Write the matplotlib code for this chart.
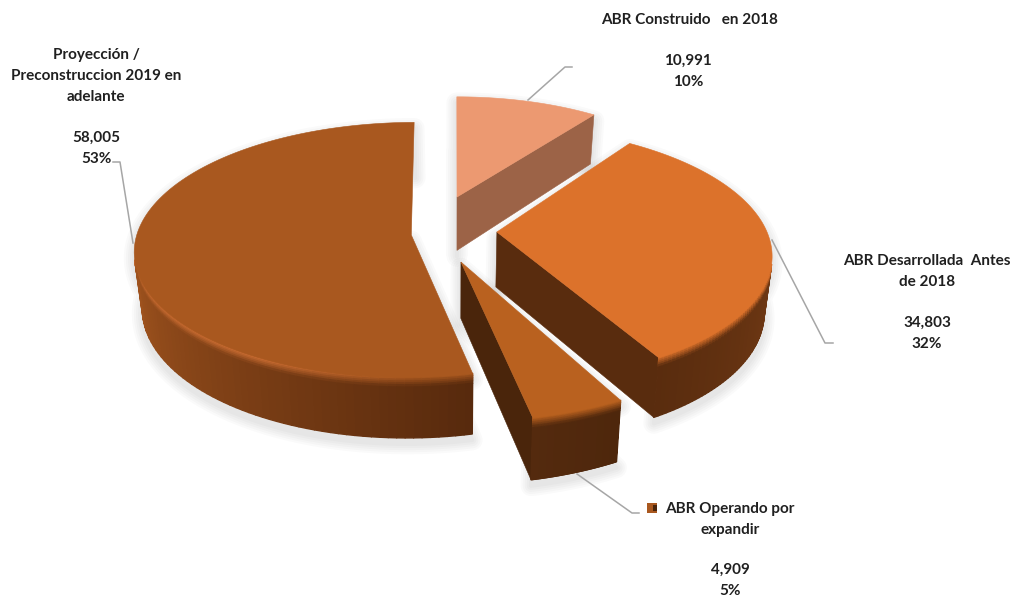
import numpy as np
import matplotlib
matplotlib.use("Agg")
import matplotlib.pyplot as plt
from matplotlib.collections import PolyCollection
from matplotlib.patches import Polygon, Rectangle

plt.rcParams['font.family'] = ['Lato', 'DejaVu Sans']

# data, clockwise from 12 o'clock
names = ["Construido", "Desarrollada", "Operando", "Proyeccion"]
values = [10991, 34803, 4909, 58005]
value_labels = ["10,991", "34,803", "4,909", "58,005"]
pct_labels = ["10%", "32%", "5%", "53%"]

# colours per slice
top_colors = [(236, 153, 113), (220, 114, 43), (185, 97, 31), (169, 88, 31)]
cut_colors = [(156, 99, 71), (89, 44, 14), (74, 37, 11), (89, 42, 14)]
rim_colors = [((156, 99, 71), (156, 99, 71)),
              ((118, 60, 22), (89, 44, 14)),
              ((78, 39, 12), (84, 42, 14)),
              ((88, 42, 13), (168, 88, 32))]
rim_range = [(0, 36), (90, 152), (152, 168), (168, 270)]
edge_glow = [None, None, None, (208, 112, 52)]

# where each exploded slice sits on the disc, and its look
explode_u = [0.0075, 0.152, 0.021, -0.158]
explode_v = [0.295, 0.008, -0.224, -0.016]
slice_scale = [0.94, 0.98, 1.05, 0.993]
slice_turn = [0, -1, 0, -0.4]
slice_k = [0.117, 0.17, 0.117, 0.117]

cx, cy = 455, 233
R, A = 276, 126.2
SHRINK = 0.975


def project(u, v, k, low=False):
    w = 1 + k * v
    x = cx + R * u / w
    y = cy - A * v / w
    if low:
        x = cx + (x - cx) * SHRINK
        y = y + (55 - 5.5 * v)
    return np.column_stack([x, y])


def norm(c):
    return tuple(i / 255 for i in c)


def mix(a, b, t):
    return tuple(a[i] + (b[i] - a[i]) * t for i in range(3))


def area(p):
    x, y = p[:, 0], p[:, 1]
    return np.sum(x * np.roll(y, -1) - np.roll(x, -1) * y)


fig = plt.figure(figsize=(10.11, 5.96), dpi=100)
ax = fig.add_axes([0, 0, 1, 1])
ax.set_xlim(0, 1011)
ax.set_ylim(596, 0)
ax.axis("off")

total = sum(values)
sweeps = np.array(values) / total * 360
starts = np.concatenate([[0], np.cumsum(sweeps)[:-1]])

slices = []
for i in range(len(values)):
    deg = np.linspace(starts[i], starts[i] + sweeps[i], 121)
    a = np.radians(deg + slice_turn[i])
    u = explode_u[i] + slice_scale[i] * np.sin(a)
    v = explode_v[i] + slice_scale[i] * np.cos(a)
    au, av = np.array([explode_u[i]]), np.array([explode_v[i]])
    slices.append(dict(a=deg,
                       top=project(u, v, slice_k[i]),
                       low=project(u, v, slice_k[i], True),
                       atop=project(au, av, slice_k[i]),
                       alow=project(au, av, slice_k[i], True)))

# soft drop shadow under every slice
for s in slices:
    outline = np.vstack([s["atop"], s["top"], s["low"][::-1], s["alow"]])
    outline = outline + np.array([0, 6])
    for lw in [15, 12, 9, 6, 3]:
        ax.add_patch(Polygon(outline, closed=True, facecolor="none",
                             edgecolor=(0, 0, 0, 0.02), lw=lw, joinstyle="round", zorder=1))
    ax.add_patch(Polygon(outline, closed=True, facecolor=(0.9, 0.9, 0.9), edgecolor="none", zorder=1))

# back slice first, front slice last
for z, i in enumerate([0, 1, 3, 2]):
    s = slices[i]
    base = 2 + z * 3
    top_c, cut_c = norm(top_colors[i]), norm(cut_colors[i])

    # flat cut faces, slivers seen edge-on are skipped
    for idx, sign in [(0, -1), (-1, 1)]:
        quad = np.vstack([s["atop"], s["top"][idx], s["low"][idx], s["alow"]])
        if area(quad) * sign > 0 and abs(s["top"][idx][0] - s["atop"][0][0]) > 10:
            ax.add_patch(Polygon(quad, closed=True, facecolor=cut_c, edgecolor=cut_c, lw=0.4, zorder=base))

    # curved outer wall, shaded along the angle with a soft top edge
    levels = [0, 0.03, 0.06, 0.09, 0.12, 0.16, 1]
    polys, cols = [], []
    c0, c1 = rim_colors[i]
    lo, hi = rim_range[i]
    for j in range(len(s["a"]) - 1):
        t_a = np.clip((s["a"][j] - lo) / max(hi - lo, 1), 0, 1)
        wall = mix(norm(c0), norm(c1), t_a)
        quad0 = np.vstack([s["top"][j], s["top"][j + 1], s["low"][j + 1], s["low"][j]])
        if area(quad0) >= 0:
            continue
        edge = top_c
        if edge_glow[i]:
            # highlight fades out towards the front corner
            edge = mix(top_c, norm(edge_glow[i]), np.clip((s["a"][j] - 178) / 30, 0, 1))
        for k in range(len(levels) - 1):
            f0, f1 = levels[k], levels[k + 1]
            polys.append([s["top"][j] + (s["low"][j] - s["top"][j]) * f0,
                          s["top"][j + 1] + (s["low"][j + 1] - s["top"][j + 1]) * f0,
                          s["top"][j + 1] + (s["low"][j + 1] - s["top"][j + 1]) * f1,
                          s["top"][j] + (s["low"][j] - s["top"][j]) * f1])
            tz = min(((f0 + f1) / 2) / 0.16, 1)
            cols.append(mix(edge, wall, tz))
    if polys:
        ax.add_collection(PolyCollection(polys, facecolors=cols, edgecolors=cols, linewidths=1.0, zorder=base + 1))

    # top face
    ax.add_patch(Polygon(np.vstack([s["atop"], s["top"]]), closed=True, facecolor=top_c,
                         edgecolor=top_c, lw=0.4, zorder=base + 2))

# leader lines
leaders = [[(528, 100), (565, 67), (572, 67)],
           [(772, 240), (825, 343), (833, 343)],
           [(577, 474), (632, 513), (639, 513)],
           [(133, 243), (120, 162), (113, 162)]]
for pts in leaders:
    xs, ys = zip(*pts)
    ax.plot(xs, ys, color="#A6A6A6", lw=1.1, zorder=1.5, solid_joinstyle="round")

# legend key beside the small slice's label
ax.add_patch(Rectangle((647, 503), 10, 10, facecolor="#A9581F", edgecolor="none", zorder=20))
ax.add_patch(Rectangle((653, 505), 4, 6, facecolor="#4A250B", edgecolor="none", zorder=21))

txt = dict(fontsize=11, fontweight="bold", color="#202020", ha="center", va="center", zorder=30)
ax.text(690, 20, "ABR Construido   en 2018", **txt)
ax.text(688, 61, value_labels[0], **txt)
ax.text(688, 82, pct_labels[0], **txt)
ax.text(927, 261, "ABR Desarrollada  Antes", **txt)
ax.text(927, 282, "de 2018", **txt)
ax.text(927, 323, value_labels[1], **txt)
ax.text(927, 344, pct_labels[1], **txt)
ax.text(730, 509, "ABR Operando por", **txt)
ax.text(730, 530, "expandir", **txt)
ax.text(730, 570, value_labels[2], **txt)
ax.text(730, 591, pct_labels[2], **txt)
ax.text(96, 55, "Proyección /", **txt)
ax.text(96, 76, "Preconstruccion 2019 en", **txt)
ax.text(96, 97, "adelante", **txt)
ax.text(96, 138, value_labels[3], **txt)
ax.text(96, 159, pct_labels[3], **txt)

fig.savefig("out.png", dpi=100)
